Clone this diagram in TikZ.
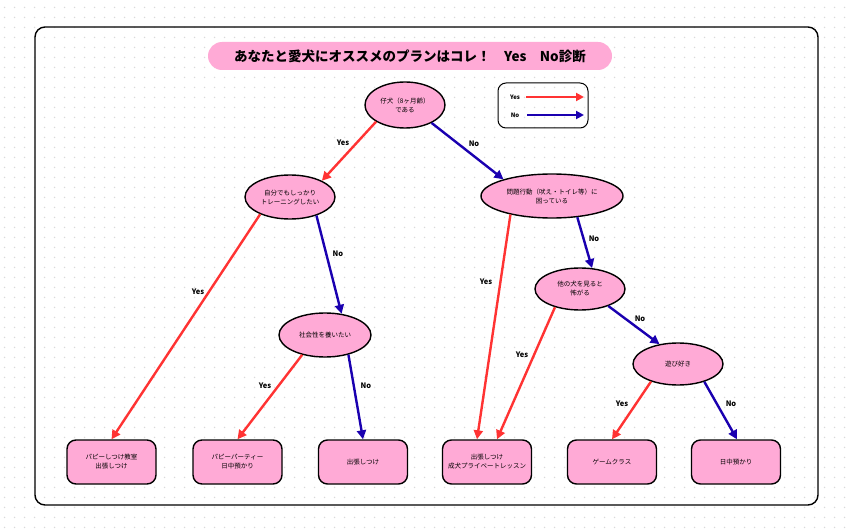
\documentclass[tikz,border=0pt]{standalone}
\usepackage{fontspec}
\setmainfont{Noto Sans CJK JP}
\usetikzlibrary{arrows.meta,shapes.geometric,patterns.meta}
\definecolor{pinkfill}{RGB}{255,170,214}
\definecolor{yesred}{RGB}{255,51,51}
\definecolor{noblue}{RGB}{26,0,176}
\tikzdeclarepattern{name=griddots,type=uncolored,bounding box={(0pt,0pt) and (9.6pt,9.6pt)},tile size={(9.6pt,9.6pt)},code={\fill (4.8pt,4.8pt) circle (0.8pt);}}
\tikzset{
  qnode/.style={ellipse,draw=black,line width=1.4pt,fill=pinkfill,inner sep=0pt,align=center,font=\fontsize{6.5}{9}\selectfont},
  leaf/.style={rectangle,rounded corners=9pt,draw=black,line width=1.4pt,fill=pinkfill,minimum width=89pt,minimum height=44pt,inner sep=0pt,align=center,font=\fontsize{6.5}{9}\selectfont},
  yesarrow/.style={draw=yesred,line width=2.4pt,-{Triangle[length=9pt,width=9pt]}},
  noarrow/.style={draw=noblue,line width=2.4pt,-{Triangle[length=9pt,width=9pt]}},
  elabel/.style={font=\fontsize{7.5}{9}\selectfont\bfseries,inner sep=1pt},
}
\begin{document}
\begin{tikzpicture}[x=1pt,y=-1pt]
\useasboundingbox (0,0) rectangle (852,532);
\fill[white] (0,0) rectangle (852,532);
\fill[pattern=griddots,pattern color=gray!30] (0,0) rectangle (852,532);
% outer frame
\draw[line width=1.4pt,rounded corners=10pt] (35,27) rectangle (818,505);
% title
\node[fill=pinkfill,rounded corners=14pt,minimum width=404pt,minimum height=28pt,inner sep=0pt,font=\fontsize{13.5}{16}\selectfont\bfseries] (title) at (410,56) {あなたと愛犬にオススメのプランはコレ！\quad Yes\quad No診断};
% legend
\node[draw=black,line width=1pt,rounded corners=8pt,minimum width=90pt,minimum height=45pt,inner sep=0pt] (legend) at (543,105.5) {};
\node[font=\fontsize{6}{7}\selectfont\bfseries,inner sep=0pt] (ly) at (515,97) {Yes};
\node[font=\fontsize{6}{7}\selectfont\bfseries,inner sep=0pt] (ln) at (515,115) {No};
\coordinate (lye) at (584,97);
\coordinate (lne) at (584,115);
\draw[yesarrow,line width=2pt,-{Triangle[length=8pt,width=8pt]}] ([xshift=6pt]ly.east) -- (lye);
\draw[noarrow,line width=2pt,-{Triangle[length=8pt,width=8pt]}] ([xshift=8pt]ln.east) -- (lne);
% question nodes
\node[qnode,minimum width=80pt,minimum height=46pt] (root) at (405,105) {仔犬（8ヶ月齢）\\である};
\node[qnode,minimum width=90pt,minimum height=44pt] (A) at (290,197) {自分でもしっかり\\トレーニングしたい};
\node[qnode,minimum width=142pt,minimum height=44pt] (B) at (552,196) {問題行動（吠え・トイレ等）に\\困っている};
\node[qnode,minimum width=92pt,minimum height=44pt] (C) at (325,335) {社会性を養いたい};
\node[qnode,minimum width=90pt,minimum height=42pt] (D) at (580,289) {他の犬を見ると\\怖がる};
\node[qnode,minimum width=90pt,minimum height=42pt] (E) at (678,364) {遊び好き};
% leaves
\node[leaf] (L1) at (111.5,462) {パピーしつけ教室\\出張しつけ};
\node[leaf] (L2) at (237.5,462) {パピーパーティー\\日中預かり};
\node[leaf] (L3) at (363,462) {出張しつけ};
\node[leaf] (L4) at (487,462) {出張しつけ\\成犬プライベートレッスン};
\node[leaf] (L5) at (612,462) {ゲームクラス};
\node[leaf] (L6) at (736,462) {日中預かり};
% connectors
\draw[yesarrow] (root.210) -- (A.27);
\draw[noarrow] (root.326) -- (B.161);
\draw[yesarrow] (A.210) -- (L1.north);
\draw[noarrow] (A.325) -- (C.52);
\draw[yesarrow] (C.221) -- (L2.north);
\draw[noarrow] (C.320) -- (L3.north);
\draw[yesarrow] (B.204) -- ([xshift=-10pt]L4.north);
\draw[noarrow] (B.320) -- (D.60);
\draw[yesarrow] (D.216) -- ([xshift=10pt]L4.north);
\draw[noarrow] (D.329) -- (E.133);
\draw[yesarrow] (E.213) -- (L5.north);
\draw[noarrow] (E.326) -- ([xshift=1pt]L6.north);
% edge labels
\node[elabel] (y1) at (343,143) {Yes};
\node[elabel] (n1) at (474,144) {No};
\node[elabel] (y2) at (198,292) {Yes};
\node[elabel] (n2) at (338,254) {No};
\node[elabel] (y3) at (265,386) {Yes};
\node[elabel] (n3) at (366,386) {No};
\node[elabel] (y4) at (486,282) {Yes};
\node[elabel] (n4) at (594,239) {No};
\node[elabel] (y5) at (522,355) {Yes};
\node[elabel] (n5) at (640,319) {No};
\node[elabel] (y6) at (622,404) {Yes};
\node[elabel] (n6) at (731,404) {No};
\end{tikzpicture}
\end{document}
